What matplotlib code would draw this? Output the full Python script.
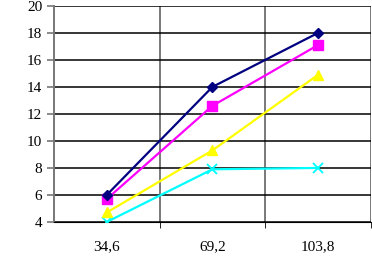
import matplotlib
matplotlib.use("Agg")
import matplotlib.pyplot as plt
from matplotlib.ticker import FixedLocator

categories = ["34,6", "69,2", "103,8"]
blue_vals = [6.0, 14.0, 18.0]
magenta_vals = [5.7, 12.6, 17.1]
yellow_vals = [4.7, 9.3, 14.9]
cyan_vals = [4.0, 7.9, 8.0]

plt.rcParams["font.family"] = ["Liberation Serif", "DejaVu Serif"]

fig = plt.figure(figsize=(3.72, 2.56), dpi=100)
ax = fig.add_axes([0.145, 0.133, 0.852, 0.844])

x = list(range(len(categories)))
ax.plot(x, blue_vals, color="#000080", marker="D", markersize=5.5, lw=1.6, zorder=6)
ax.plot(x, magenta_vals, color="#FF00FF", marker="s", markersize=6.5, lw=1.6, zorder=5)
ax.plot(x, yellow_vals, color="#FFFF00", marker="^", markersize=7, lw=1.6, zorder=4)
ax.plot(x, cyan_vals, color="#00FFFF", marker="x", markersize=6.5, mew=1.3, lw=1.6, zorder=3)

ax.set_xlim(-0.5, len(categories) - 0.5)
ax.set_ylim(4, 20)
ax.set_yticks(range(4, 21, 2))
ax.set_xticks(x)
ax.set_xticklabels(categories)
ax.xaxis.set_minor_locator(FixedLocator([0.5, 1.5, 2.5]))

ax.tick_params(axis="x", which="major", length=0, pad=13, labelsize=11)
ax.tick_params(axis="x", which="minor", length=4, color="black")
ax.tick_params(axis="y", length=5, labelsize=11, color="#777777", width=1.2)

ax.grid(axis="y", color="black", lw=1.1, zorder=0)
ax.grid(axis="x", which="minor", color="#555555", lw=1.1, zorder=0)
ax.set_axisbelow(True)

for side in ["top", "right"]:
    ax.spines[side].set_visible(False)
ax.spines["left"].set_color("#777777")
ax.spines["left"].set_linewidth(1.4)
ax.spines["bottom"].set_color("black")

fig.savefig("out.png", dpi=100)
